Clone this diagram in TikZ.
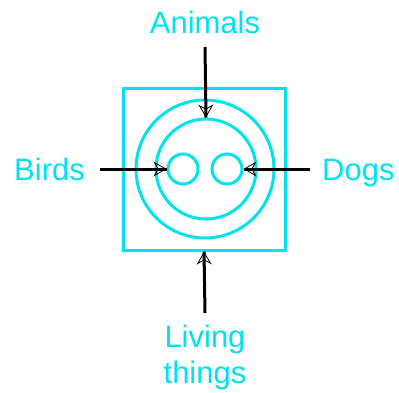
\documentclass[tikz,border=0pt]{standalone}
\usepackage{fontspec}
\setmainfont{Liberation Sans}
\usetikzlibrary{arrows.meta}
\definecolor{cy}{RGB}{0,226,238}
\begin{document}
\begin{tikzpicture}[x=1pt,y=-1pt,
  cyline/.style={draw=cy,line width=3pt},
  lab/.style={text=cy,font=\fontsize{31}{36}\selectfont,inner sep=0pt},
  arr/.style={line width=3pt,black,
    postaction={draw,line width=0.8pt,-{Stealth[length=13pt,width=15pt,open]}}}]
\useasboundingbox (0,0) rectangle (399,392);
\node[cyline,rectangle,minimum size=162pt,inner sep=0pt] (box) at (204,169) {};
\node[cyline,circle,minimum size=138pt,inner sep=0pt] (outer) at (205,169) {};
\node[cyline,circle,minimum size=100pt,inner sep=0pt] (inner) at (206,169) {};
\node[cyline,circle,minimum size=30pt,inner sep=0pt] (leye) at (183,169) {};
\node[cyline,circle,minimum size=30pt,inner sep=0pt] (reye) at (227,169) {};
\node[lab,anchor=base] (animals) at (205,33) {Animals};
\node[lab,anchor=base west] (birds) at (14,180) {Birds};
\node[lab,anchor=base west] (dogs) at (322,180) {Dogs};
\node[lab,anchor=north,align=center] (living) at (205,325) {Living\\things};
\coordinate (a0) at (205,47);
\coordinate (b0) at (100,169);
\coordinate (d0) at (310,169);
\coordinate (l0) at (205,313);
\draw[arr] (a0) -- (inner.north);
\draw[arr] (b0) -- (leye.west);
\draw[arr] (d0) -- (reye.east);
\draw[arr] (l0) -- (box.south);
\end{tikzpicture}
\end{document}
